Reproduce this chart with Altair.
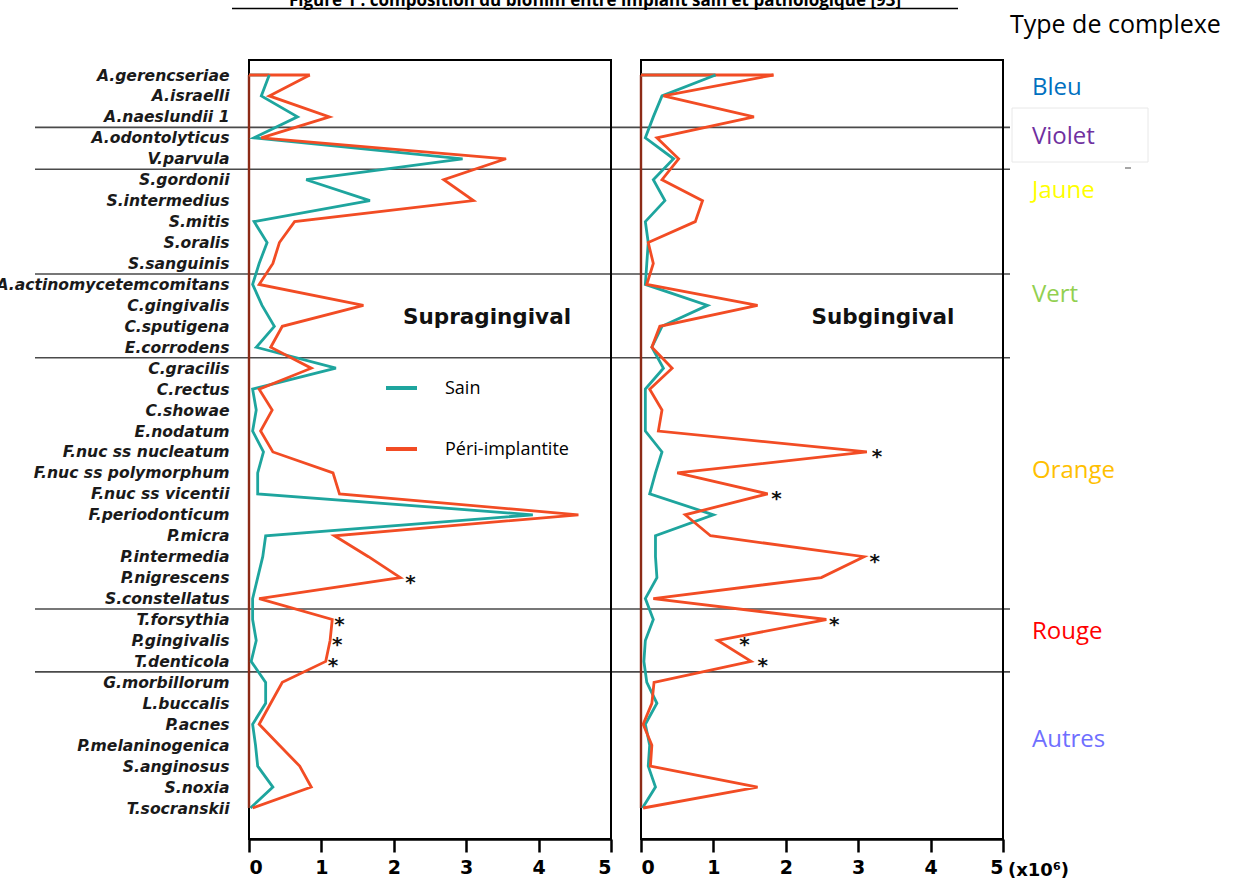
import json
import altair as alt
import pandas as pd

# ---------------- data ----------------
species = [
    "A.gerencseriae", "A.israelli", "A.naeslundii 1", "A.odontolyticus", "V.parvula",
    "S.gordonii", "S.intermedius", "S.mitis", "S.oralis", "S.sanguinis",
    "A.actinomycetemcomitans", "C.gingivalis", "C.sputigena", "E.corrodens",
    "C.gracilis", "C.rectus", "C.showae", "E.nodatum", "F.nuc ss nucleatum",
    "F.nuc ss polymorphum", "F.nuc ss vicentii", "F.periodonticum", "P.micra",
    "P.intermedia", "P.nigrescens", "S.constellatus", "T.forsythia", "P.gingivalis",
    "T.denticola", "G.morbillorum", "L.buccalis", "P.acnes", "P.melaninogenica",
    "S.anginosus", "S.noxia", "T.socranskii",
]
group_sizes = [3, 2, 5, 4, 12, 3, 7]
complex_names = ["Bleu", "Violet", "Jaune", "Vert", "Orange", "Rouge", "Autres"]
complex_colors = ["#0070C0", "#7030A0", "#FFFF00", "#92D050", "#FFC000", "#FF0000", "#6F6FFF"]

series_names = ["Sain", "Péri-implantite"]
series_colors = ["#1ea59e", "#f24c24"]

supra_sain = [0.28, 0.17, 0.67, 0.07, 2.95, 0.79, 1.67, 0.07, 0.25, 0.14,
              0.05, 0.18, 0.35, 0.10, 1.20, 0.05, 0.10, 0.05, 0.20, 0.12,
              0.12, 3.92, 0.23, 0.19, 0.12, 0.05, 0.05, 0.10, 0.03, 0.23,
              0.23, 0.05, 0.09, 0.12, 0.33, 0.02]
supra_peri = [0.84, 0.28, 1.11, 0.17, 3.55, 2.69, 3.10, 0.63, 0.42, 0.33,
              0.14, 1.58, 0.46, 0.30, 0.86, 0.14, 0.32, 0.16, 0.33, 1.16,
              1.25, 4.55, 1.18, 1.65, 2.09, 0.14, 1.15, 1.12, 1.06, 0.46,
              0.30, 0.14, 0.42, 0.70, 0.86, 0.05]
sub_sain = [1.03, 0.29, 0.17, 0.06, 0.45, 0.17, 0.33, 0.06, 0.10, 0.08,
            0.06, 0.92, 0.29, 0.15, 0.31, 0.06, 0.06, 0.06, 0.29, 0.20,
            0.12, 1.00, 0.20, 0.20, 0.22, 0.06, 0.17, 0.06, 0.04, 0.08,
            0.22, 0.06, 0.12, 0.10, 0.20, 0.02]
sub_peri = [1.83, 0.31, 1.56, 0.22, 0.52, 0.29, 0.85, 0.75, 0.10, 0.17,
            0.08, 1.61, 0.26, 0.15, 0.43, 0.12, 0.29, 0.24, 3.12, 0.50,
            1.75, 0.61, 0.96, 3.08, 2.49, 0.17, 2.56, 1.06, 1.52, 0.18,
            0.15, 0.03, 0.15, 0.13, 1.61, 0.03]

supra_star_species = ["P.nigrescens", "T.forsythia", "P.gingivalis", "T.denticola"]
supra_star_x = [2.23, 1.25, 1.22, 1.16]
sub_star_species = ["F.nuc ss nucleatum", "F.nuc ss vicentii", "P.intermedia",
                    "T.forsythia", "P.gingivalis", "T.denticola"]
sub_star_x = [3.26, 1.87, 3.23, 2.67, 1.43, 1.68]

x_ticks = [0, 1, 2, 3, 4, 5]
panel_titles = ["Supragingival", "Subgingival"]
fig_title = "Figure 1 : composition du biofilm entre implant sain et pathologique [93]"
legend_title = "Type de complexe"
unit_label = "(x10\u2076)"

# ---------------- layout (pixels) ----------------
W, H = 1236, 883
ROW_RANGE = [75, 808]
PLOT_TOP, PLOT_BOTTOM = 60, 839
LEFT_RANGE = [249, 611]
RIGHT_RANGE = [641, 1003]
SEP_X = (35, 1010)
complex_label_y = [88, 137, 191, 295, 471, 632, 740]

n = len(species)
y_scale = alt.Scale(domain=[1, n], range=ROW_RANGE, nice=False, zero=False)
label_expr = json.dumps(species) + "[datum.value - 1]"
y_axis = alt.Axis(
    orient="left", offset=-LEFT_RANGE[0], values=list(range(1, n + 1)),
    labelExpr=label_expr, ticks=False, domain=False, grid=False, title=None,
    labelFont="DejaVu Sans", labelFontStyle="italic", labelFontWeight="bold",
    labelFontSize=15.6, labelColor="#1a1a1a", labelPadding=20, labelLimit=400,
    labelOverlap=False,
)
color_enc = alt.Color("series:N", scale=alt.Scale(domain=series_names, range=series_colors),
                      legend=None)


def y_field(f):
    return alt.Y(f, type="quantitative", scale=y_scale, axis=y_axis)


def long_df(sain, peri):
    rows = []
    for name, vals in zip(series_names, [sain, peri]):
        for i, sp in enumerate(species):
            rows.append({"idx": i + 1, "species": sp, "series": name, "value": vals[i]})
    return pd.DataFrame(rows)


def panel(sain, peri, star_sp, star_x, xr, title_x):
    xs = alt.Scale(domain=[0, 5], range=xr, nice=False, zero=False)
    x_axis = alt.Axis(
        orient="bottom", offset=-(H - PLOT_BOTTOM), values=x_ticks, format="d",
        tickSize=13, tickWidth=2.5, tickColor="black", domainColor="black",
        domainWidth=2.5, grid=False, title=None, labelFont="DejaVu Sans",
        labelFontWeight="bold", labelFontSize=19, labelColor="black", labelPadding=6,
    )

    def x_field(f):
        return alt.X(f, type="quantitative", scale=xs, axis=x_axis)

    df = long_df(sain, peri)
    frame = alt.Chart(df).mark_rect(fill=None, stroke="black", strokeWidth=2).encode(
        x=alt.value(xr[0]), x2=alt.value(xr[1]),
        y=alt.value(PLOT_TOP), y2=alt.value(PLOT_BOTTOM),
    ).transform_filter("datum.idx == 1 && datum.series == 'Sain'")
    zero = alt.Chart(df).mark_rule(color="#8c2a16", strokeWidth=2.4).encode(
        x=alt.XDatum(0, scale=xs, axis=x_axis),
        y=alt.YDatum(1, scale=y_scale, axis=y_axis),
        y2=alt.Y2Datum(n),
    ).transform_filter("datum.idx == 1 && datum.series == 'Sain'")
    stub = alt.Chart(df).mark_rule(strokeWidth=2.8).encode(
        x=x_field("value"), x2=alt.X2Datum(0), y=y_field("idx"), color=color_enc,
    ).transform_filter("datum.idx == 1")
    lines = alt.Chart(df).mark_line(strokeWidth=2.8).encode(
        x=x_field("value"), y=y_field("idx"), color=color_enc, order="idx:Q",
    )
    sdf = pd.DataFrame({"idx": [species.index(s) + 1 for s in star_sp], "value": star_x})
    stars = alt.Chart(sdf).mark_text(
        text="*", font="DejaVu Sans", fontWeight="bold", fontSize=20,
        color="#111", baseline="middle", dy=5,
    ).encode(x=x_field("value"), y=y_field("idx"))
    ttl = alt.Chart(pd.DataFrame({"t": [panel_titles[title_x[0]]]})).mark_text(
        font="DejaVu Sans", fontWeight="bold", fontSize=21.5, color="#111",
        align="center", baseline="middle",
    ).encode(text="t:N", x=alt.value(title_x[1]), y=alt.value(318))
    return alt.layer(frame, zero, stub, lines, stars, ttl)


left = panel(supra_sain, supra_peri, supra_star_species, supra_star_x, LEFT_RANGE, (0, 487))
right = panel(sub_sain, sub_peri, sub_star_species, sub_star_x, RIGHT_RANGE, (1, 883))

# group separators
bounds = []
acc = 0
for g in group_sizes[:-1]:
    acc += g
    bounds.append(acc + 0.5)
sep = alt.Chart(pd.DataFrame({"pos": bounds})).mark_rule(color="#4a4a4a", strokeWidth=1.6).encode(
    x=alt.value(SEP_X[0]), x2=alt.value(SEP_X[1]), y=y_field("pos"),
)

# manual legend inside left panel
leg_layers = []
leg_y = [388, 449]
for name, col, ly in zip(series_names, series_colors, leg_y):
    d = pd.DataFrame({"t": [name]})
    leg_layers.append(alt.Chart(d).mark_rule(color=col, strokeWidth=4).encode(
        x=alt.value(386), x2=alt.value(417), y=alt.value(ly)))
    leg_layers.append(alt.Chart(d).mark_text(
        font="Open Sans", fontSize=18, color="black", align="left", baseline="middle"
    ).encode(text="t:N", x=alt.value(445), y=alt.value(ly + 1)))

# complex type labels on the right
ann = []
ann.append(alt.Chart(pd.DataFrame({"t": [legend_title]})).mark_text(
    font="Open Sans", fontSize=25, color="black", align="left", baseline="middle"
).encode(text="t:N", x=alt.value(1010), y=alt.value(25)))
ann.append(alt.Chart(pd.DataFrame({"t": [0]})).mark_rect(
    fill=None, stroke="#e8e8e8", strokeWidth=1).encode(
    x=alt.value(1012), x2=alt.value(1148), y=alt.value(108), y2=alt.value(162)))
ann.append(alt.Chart(pd.DataFrame({"t": [0]})).mark_rule(color="#888", strokeWidth=1.5).encode(
    x=alt.value(1125), x2=alt.value(1131), y=alt.value(168)))
for name, col, ly in zip(complex_names, complex_colors, complex_label_y):
    ann.append(alt.Chart(pd.DataFrame({"t": [name]})).mark_text(
        font="Open Sans", fontSize=24, color=col, align="left", baseline="middle"
    ).encode(text="t:N", x=alt.value(1032), y=alt.value(ly)))
ann.append(alt.Chart(pd.DataFrame({"t": [unit_label]})).mark_text(
    font="DejaVu Sans", fontWeight="bold", fontSize=18, color="black", align="left",
    baseline="middle").encode(text="t:N", x=alt.value(1008), y=alt.value(871)))
# figure title (cut off at top like the reference)
ann.append(alt.Chart(pd.DataFrame({"t": [fig_title]})).mark_text(
    font="Open Sans", fontWeight="bold", fontSize=17, color="black", align="center",
    baseline="alphabetic").encode(text="t:N", x=alt.value(595), y=alt.value(5.5)))
ann.append(alt.Chart(pd.DataFrame({"t": [0]})).mark_rule(color="black", strokeWidth=1.5).encode(
    x=alt.value(232), x2=alt.value(958), y=alt.value(8.5)))

chart = alt.layer(sep, left, right, *leg_layers, *ann).resolve_scale(
    x="independent"
).properties(
    width=W, height=H, padding=0,
    autosize=alt.AutoSizeParams(type="none"),
    background="white",
).configure_view(stroke=None)

chart.save("out.html", embed_options={"renderer": "svg", "actions": False})
